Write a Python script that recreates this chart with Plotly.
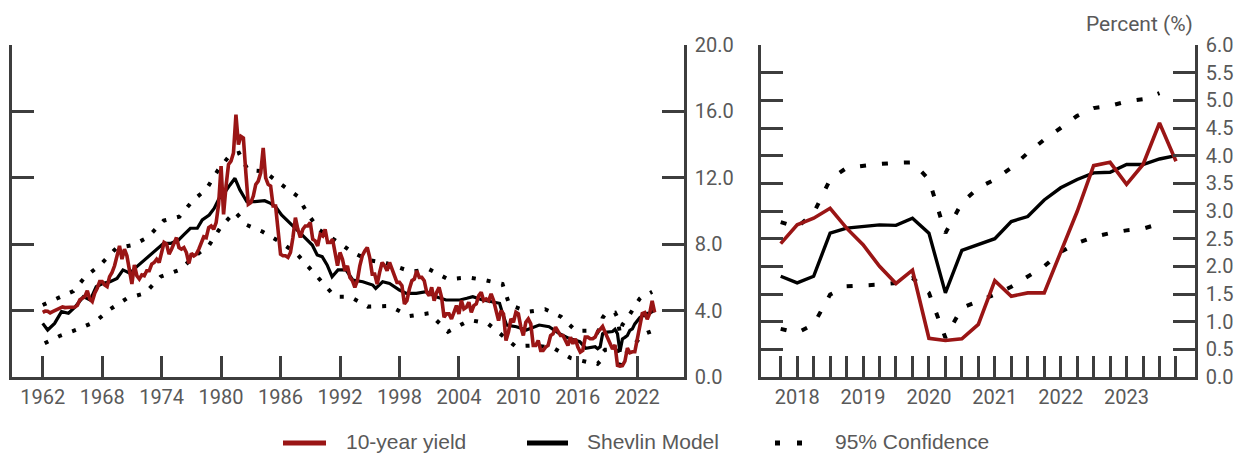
import plotly.graph_objects as go

# ---------------------------------------------------------------------------
# Data
# ---------------------------------------------------------------------------
FIRST_YEAR = 1962

# 10-year Treasury yield, end of quarter, 1962Q1 .. 2023Q4 (percent)
yield_10y = [
    3.89, 3.97, 3.96, 3.86,     # 1962
    3.94, 4.00, 4.10, 4.16,     # 1963
    4.22, 4.18, 4.21, 4.20,     # 1964
    4.20, 4.21, 4.32, 4.65,     # 1965
    4.75, 4.85, 5.20, 4.70,     # 1966
    4.55, 5.05, 5.35, 5.75,     # 1967
    5.75, 5.55, 5.45, 6.05,     # 1968
    6.30, 6.70, 7.30, 7.90,     # 1969
    7.10, 7.70, 7.30, 6.40,     # 1970
    5.60, 6.75, 6.10, 5.90,     # 1971
    6.15, 6.10, 6.40, 6.40,     # 1972
    6.80, 6.90, 7.10, 6.90,     # 1973
    7.60, 8.10, 8.00, 7.40,     # 1974
    7.70, 8.00, 8.40, 7.80,     # 1975
    7.70, 7.80, 7.50, 6.85,     # 1976
    7.45, 7.30, 7.40, 7.70,     # 1977
    8.10, 8.45, 8.40, 9.00,     # 1978
    9.10, 8.90, 9.30, 10.40,    # 1979
    12.70, 9.80, 11.50, 12.80,  # 1980
    13.00, 13.50, 15.80, 14.00, # 1981
    14.50, 14.40, 12.30, 10.40, # 1982
    10.50, 10.90, 11.60, 11.80, # 1983
    12.30, 13.80, 12.00, 11.60, # 1984
    11.50, 10.30, 10.30, 9.00,  # 1985
    7.40, 7.30, 7.30, 7.20,     # 1986
    7.50, 8.40, 9.60, 8.90,     # 1987
    8.40, 8.90, 9.10, 9.10,     # 1988
    9.30, 8.30, 8.20, 7.90,     # 1989
    8.60, 8.50, 8.90, 8.10,     # 1990
    8.10, 8.30, 7.60, 6.70,     # 1991
    7.50, 7.10, 6.40, 6.70,     # 1992
    6.00, 5.80, 5.40, 5.80,     # 1993
    6.70, 7.30, 7.60, 7.80,     # 1994
    7.20, 6.20, 6.20, 5.60,     # 1995
    6.30, 6.90, 6.70, 6.40,     # 1996
    6.90, 6.50, 6.10, 5.70,     # 1997
    5.70, 5.50, 4.40, 4.60,     # 1998
    5.30, 5.80, 5.90, 6.40,     # 1999
    6.00, 6.00, 5.80, 5.10,     # 2000
    4.90, 5.40, 4.60, 5.10,     # 2001
    5.40, 4.80, 3.60, 3.80,     # 2002
    3.80, 3.50, 3.90, 4.30,     # 2003
    3.80, 4.60, 4.10, 4.20,     # 2004
    4.50, 3.90, 4.30, 4.40,     # 2005
    4.90, 5.10, 4.60, 4.70,     # 2006
    4.60, 5.00, 4.60, 4.00,     # 2007
    3.40, 4.00, 3.80, 2.20,     # 2008
    2.70, 3.50, 3.30, 3.90,     # 2009
    3.80, 3.00, 2.50, 3.30,     # 2010
    3.50, 3.20, 1.90, 1.90,     # 2011
    2.20, 1.60, 1.60, 1.80,     # 2012
    1.90, 2.50, 2.60, 3.00,     # 2013
    2.70, 2.50, 2.50, 2.20,     # 2014
    1.90, 2.40, 2.00, 2.30,     # 2015
    1.80, 1.50, 1.60, 2.40,     # 2016
    2.40, 2.30, 2.30, 2.41,     # 2017
    2.75, 2.87, 3.05, 2.69,     # 2018
    2.39, 2.00, 1.69, 1.93,     # 2019
    0.70, 0.66, 0.69, 0.95,     # 2020
    1.74, 1.46, 1.52, 1.52,     # 2021
    2.24, 2.99, 3.82, 3.88,     # 2022
    3.48, 3.84, 4.59, 3.90,     # 2023
]

# Recent window shown in the right panel
recent_quarters = [
    "2017Q4",
    "2018Q1", "2018Q2", "2018Q3", "2018Q4",
    "2019Q1", "2019Q2", "2019Q3", "2019Q4",
    "2020Q1", "2020Q2", "2020Q3", "2020Q4",
    "2021Q1", "2021Q2", "2021Q3", "2021Q4",
    "2022Q1", "2022Q2", "2022Q3", "2022Q4",
    "2023Q1", "2023Q2", "2023Q3", "2023Q4",
]
model_recent = [
    1.82, 1.70, 1.82, 2.60, 2.69, 2.72, 2.75, 2.74, 2.87, 2.60,
    1.52, 2.29, 2.39, 2.50, 2.81, 2.90, 3.20, 3.42, 3.57, 3.69,
    3.70, 3.84, 3.84, 3.94, 4.00,
]
ci_upper_recent = [
    2.80, 2.71, 2.96, 3.57, 3.78, 3.82, 3.85, 3.87, 3.88, 3.57,
    2.60, 3.15, 3.42, 3.57, 3.78, 4.05, 4.29, 4.50, 4.72, 4.86,
    4.90, 4.98, 5.02, 5.13,
]
ci_lower_recent = [
    0.87, 0.80, 0.95, 1.49, 1.64, 1.65, 1.67, 1.70, 1.79, 1.52,
    0.71, 1.25, 1.37, 1.49, 1.63, 1.82, 2.00, 2.26, 2.42, 2.53,
    2.60, 2.65, 2.68, 2.77,
]

# Shevlin model and 95% band before the recent window (decimal years)
model_hist_years = [
    1962.0, 1962.5, 1963.2, 1963.9, 1964.6, 1965.3, 1966.1, 1966.8, 1967.4,
    1968.1, 1968.8, 1969.5, 1970.1, 1970.8, 1971.5, 1972.5, 1973.5, 1974.2,
    1974.9, 1975.7, 1976.2, 1976.9, 1977.6, 1978.1, 1978.8, 1979.3, 1979.8,
    1980.3, 1980.9, 1981.4, 1981.9, 1982.6, 1983.4, 1984.4, 1985.0, 1985.5,
    1986.1, 1987.2, 1988.2, 1989.2, 1989.7, 1990.2, 1990.7, 1991.2, 1991.8,
    1992.6, 1993.3, 1994.3, 1995.3, 1995.6, 1996.3, 1997.0, 1998.0, 1998.7,
    1999.7, 2000.7, 2001.7, 2002.7, 2004.1, 2004.8, 2005.4, 2006.4, 2007.4,
    2008.1, 2008.4, 2008.8, 2009.8, 2010.8, 2012.1, 2013.1, 2014.1, 2015.1,
    2016.2, 2016.8,
]
model_hist = [
    3.23, 2.83, 3.23, 3.94, 3.84, 4.24, 4.84, 4.64, 5.44,
    5.64, 5.74, 5.94, 6.45, 6.25, 6.65, 7.15, 7.65, 8.05,
    8.05, 8.25, 8.55, 8.96, 8.96, 9.46, 9.76, 10.16, 10.76,
    11.06, 11.57, 11.97, 11.27, 10.56, 10.56, 10.62, 10.46, 10.26,
    9.76, 9.16, 8.55, 7.95, 7.35, 7.25, 6.75, 6.04, 6.45,
    6.45, 5.84, 5.74, 5.54, 5.34, 5.74, 5.64, 5.24, 5.04,
    5.04, 5.14, 4.84, 4.64, 4.64, 4.74, 4.84, 4.64, 4.54,
    4.44, 3.84, 3.13, 3.03, 2.83, 3.13, 3.03, 2.63, 2.33,
    2.13, 1.73,
]
ci_upper_hist_years = [
    1962.0, 1963.6, 1965.1, 1966.3, 1967.8, 1969.4, 1971.1, 1972.6, 1974.2,
    1975.8, 1977.2, 1978.5, 1979.7, 1980.9, 1981.8, 1982.7, 1984.3, 1985.9,
    1987.7, 1988.8, 1989.9, 1992.0, 1993.3, 1994.9, 1996.7, 1999.2, 2001.0,
    2002.9, 2004.9, 2006.6, 2008.4, 2009.1, 2011.0, 2012.7, 2014.3, 2015.8,
]
ci_upper_hist = [
    4.34, 4.78, 5.18, 6.04, 6.75, 7.75, 7.95, 8.41, 9.42,
    9.66, 10.66, 11.30, 12.47, 13.37, 13.50, 12.47, 12.40, 11.67,
    10.90, 9.78, 8.86, 8.05, 7.49, 7.05, 6.85, 6.34, 6.49,
    5.89, 6.00, 5.84, 5.60, 4.34, 3.93, 4.08, 3.63, 2.78,
]
ci_lower_hist_years = [
    1962.2, 1963.7, 1965.5, 1967.3, 1968.8, 1970.5, 1972.3, 1973.9, 1975.8,
    1977.2, 1978.8, 1980.0, 1981.4, 1982.6, 1984.2, 1985.9, 1987.6, 1989.1,
    1990.3, 1991.5, 1993.0, 1994.8, 1997.0, 1999.0, 2001.0, 2002.9, 2005.1,
    2006.9, 2009.7, 2011.5, 2013.5, 2015.3, 2017.3,
]
ci_lower_hist = [
    2.03, 2.47, 2.87, 3.33, 4.08, 4.74, 5.04, 6.04, 6.45,
    7.20, 7.95, 9.06, 9.96, 9.16, 8.75, 8.15, 7.45, 6.45,
    5.64, 4.84, 4.84, 4.24, 4.28, 3.67, 3.84, 2.73, 3.43,
    3.23, 1.85, 1.90, 1.76, 1.13, 0.85,
]

left_x_ticks = [1962, 1968, 1974, 1980, 1986, 1992, 1998, 2004, 2010, 2016, 2022]
left_y_ticks = [0, 4, 8, 12, 16, 20]
right_y_ticks = [0.5 * k for k in range(13)]

# ---------------------------------------------------------------------------
# Helpers / styling
# ---------------------------------------------------------------------------
W, H = 1235, 454
RED = "#9a1515"
BLACK = "#000000"
AXIS = "#3d3d3d"
TEXT = "#595959"
TICK_FONT = dict(family="Roboto", size=20, color=TEXT)
LEGEND_FONT = dict(family="Liberation Sans", size=21, color=TEXT)


def qpos(label):
    """Decimal-year position of a quarter label like '2019Q3'."""
    year, q = label.split("Q")
    return int(year) + (int(q) - 1) / 4


def fx(px):
    return px / W


def fy(py):
    return 1 - py / H


full_x = [FIRST_YEAR + i / 4 for i in range(len(yield_10y))]
recent_x = [qpos(q) for q in recent_quarters]
recent_yield = yield_10y[-len(recent_quarters):]

model_left_x = model_hist_years + recent_x
model_left_y = model_hist + model_recent
up_left_x = ci_upper_hist_years + recent_x[:len(ci_upper_recent)]
up_left_y = ci_upper_hist + ci_upper_recent
lo_left_x = ci_lower_hist_years + recent_x[:len(ci_lower_recent)]
lo_left_y = ci_lower_hist + ci_lower_recent

fig = go.Figure()

# ---- left panel: full history ----
dot_left = dict(color=BLACK, width=4, dash="4px,11px")
fig.add_trace(go.Scatter(x=up_left_x, y=up_left_y, mode="lines", line=dot_left,
                         xaxis="x", yaxis="y", showlegend=False, hoverinfo="skip"))
fig.add_trace(go.Scatter(x=lo_left_x, y=lo_left_y, mode="lines", line=dot_left,
                         xaxis="x", yaxis="y", showlegend=False, hoverinfo="skip"))
fig.add_trace(go.Scatter(x=model_left_x, y=model_left_y, mode="lines",
                         line=dict(color=BLACK, width=3.2),
                         xaxis="x", yaxis="y", showlegend=False))
fig.add_trace(go.Scatter(x=full_x, y=yield_10y, mode="lines",
                         line=dict(color=RED, width=3.6),
                         xaxis="x", yaxis="y", showlegend=False))

# ---- right panel: recent quarters ----
dot_right = dict(color=BLACK, width=4, dash="6px,16px")
fig.add_trace(go.Scatter(x=recent_x[:len(ci_upper_recent)], y=ci_upper_recent,
                         mode="lines", line=dot_right,
                         xaxis="x2", yaxis="y2", showlegend=False, hoverinfo="skip"))
fig.add_trace(go.Scatter(x=recent_x[:len(ci_lower_recent)], y=ci_lower_recent,
                         mode="lines", line=dot_right,
                         xaxis="x2", yaxis="y2", showlegend=False, hoverinfo="skip"))
fig.add_trace(go.Scatter(x=recent_x, y=model_recent, mode="lines",
                         line=dict(color=BLACK, width=3.4),
                         xaxis="x2", yaxis="y2", showlegend=False))
fig.add_trace(go.Scatter(x=recent_x, y=recent_yield, mode="lines",
                         line=dict(color=RED, width=3.6),
                         xaxis="x2", yaxis="y2", showlegend=False))

axis_common = dict(showgrid=False, zeroline=False, showline=True, linecolor=AXIS,
                   linewidth=2.5, ticks="inside", tickcolor=AXIS, tickwidth=2.5,
                   tickfont=TICK_FONT, automargin=False)

y_dom = [fy(377), fy(45)]

# left-panel scale: 1962 at px 42.7, 9.91 px per year
px_per_year = 9.91
left_range = [1962 - (42.7 - 12) / px_per_year, 1962 + (684 - 42.7) / px_per_year]

# right-panel scale: first quarter at px 780.7, 16.47 px per quarter
px_per_q = 16.47
r0 = recent_x[0]
right_range = [r0 - (780.7 - 761) / px_per_q / 4, r0 + (1195 - 780.7) / px_per_q / 4]
right_ticktext = [q[:4] if q.endswith("Q1") else "" for q in recent_quarters]

fig.update_layout(
    width=W, height=H, autosize=False,
    margin=dict(l=0, r=0, t=0, b=0, autoexpand=False),
    paper_bgcolor="white", plot_bgcolor="white",
    xaxis=dict(axis_common, domain=[fx(12), fx(684)], range=left_range,
               tickmode="array", tickvals=left_x_ticks, ticklen=21,
               anchor="y", ticklabelstandoff=0),
    yaxis=dict(axis_common, domain=y_dom, range=[0, 20], side="right",
               mirror="ticks", tickmode="array", tickvals=left_y_ticks,
               tickformat=".1f", ticklen=22, anchor="x", ticklabelstandoff=4),
    xaxis2=dict(axis_common, domain=[fx(761), fx(1195)], range=right_range,
                tickmode="array", tickvals=recent_x, ticktext=right_ticktext,
                ticklen=21, anchor="y2", ticklabelstandoff=0),
    yaxis2=dict(axis_common, domain=y_dom, range=[0, 6], side="right",
                mirror="ticks", tickmode="array", tickvals=right_y_ticks,
                tickformat=".1f", ticklen=22, anchor="x2", ticklabelstandoff=4),
)

# unit label above the right axis
fig.add_annotation(text="Percent (%)", xref="paper", yref="paper",
                   x=fx(1195), y=fy(24), xanchor="right", yanchor="middle",
                   showarrow=False, font=dict(family="Roboto", size=21, color=TEXT))

# legend row
LEG_Y = 443
TEXT_Y = 441.5
fig.add_shape(type="line", xref="paper", yref="paper",
              x0=fx(283), x1=fx(326), y0=fy(LEG_Y), y1=fy(LEG_Y),
              line=dict(color=RED, width=5))
fig.add_shape(type="line", xref="paper", yref="paper",
              x0=fx(527), x1=fx(568), y0=fy(LEG_Y), y1=fy(LEG_Y),
              line=dict(color=BLACK, width=5))
for x0 in (775, 797):
    fig.add_shape(type="rect", xref="paper", yref="paper",
                  x0=fx(x0), x1=fx(x0 + 5), y0=fy(LEG_Y - 2.5), y1=fy(LEG_Y + 2.5),
                  line=dict(width=0), fillcolor=BLACK)
for label, x0 in (("10-year yield", 344), ("Shevlin Model", 585), ("95% Confidence", 833)):
    fig.add_annotation(text=label, xref="paper", yref="paper", x=fx(x0), y=fy(TEXT_Y),
                       xanchor="left", yanchor="middle", showarrow=False,
                       font=LEGEND_FONT)

fig.write_html("out.html")
